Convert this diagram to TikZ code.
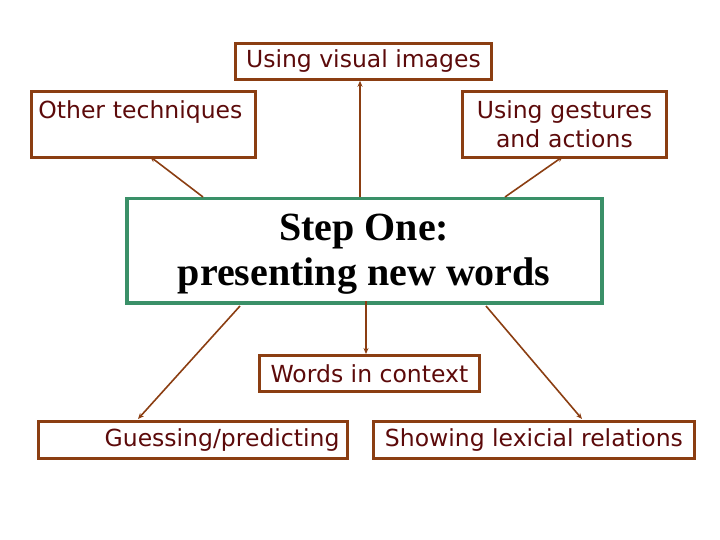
\documentclass[tikz,border=0pt]{standalone}
\usepackage{fontspec}
\setmainfont{DejaVu Sans}
\newfontfamily\serifbold{Liberation Serif}
\usetikzlibrary{arrows.meta}
\definecolor{boxbrown}{HTML}{8B3E12}
\definecolor{txtred}{HTML}{5C0A0A}
\definecolor{boxgreen}{HTML}{3A9068}
\tikzset{
  brownbox/.style={draw=boxbrown, line width=2.8pt, rectangle, inner sep=0pt, text=txtred,
    font=\fontsize{23.5}{29}\selectfont, anchor=north west},
  link/.style={draw=boxbrown, line width=1.6pt, -{Stealth[length=6pt,width=5pt]}},
}
\begin{document}
\begin{tikzpicture}[x=1pt,y=-1pt]
\useasboundingbox (0,0) rectangle (720,540);
\node[brownbox, minimum width=256pt, minimum height=36pt] (vis) at (234,42) {Using visual images};
\node[brownbox, minimum width=224pt, minimum height=66pt, text width=210pt, align=left, yshift=0pt] (oth) at (30,90) {Other techniques\\\mbox{}};
\node[brownbox, minimum width=204pt, minimum height=66pt, text width=200pt, align=center] (ges) at (461,90) {Using gestures\\and actions};
\node[draw=boxgreen, line width=3.5pt, rectangle, inner sep=0pt, anchor=north west, minimum width=475pt, minimum height=104pt] (step) at (125,197) {};
\node[align=center, inner sep=0pt, font=\serifbold\bfseries\fontsize{40}{45}\selectfont] (steptext) at ([yshift=-3pt]step.center) {Step One:\\presenting new words};
\node[brownbox, minimum width=220pt, minimum height=36pt] (ctx) at (258,354) {Words in context};
\node[brownbox, minimum width=309pt, minimum height=37pt, text width=293pt, align=right] (gue) at (37,420) {Guessing/predicting};
\node[brownbox, minimum width=321pt, minimum height=37pt] (lex) at (372,420) {Showing lexicial relations};
\coordinate (s1) at (360,197);
\coordinate (s2) at (203,197);
\coordinate (s3) at (505,197);
\coordinate (s4) at (366,301);
\coordinate (s5) at (240,306);
\coordinate (s6) at (486,306);
\draw[link] (s1) -- (vis.south -| s1);
\draw[link] (s2) -- (150,156.5);
\draw[link] (s3) -- (563,156.5);
\draw[link] (s4) -- (ctx.north -| s4);
\draw[link] (s5) -- (138,419);
\draw[link] (s6) -- (582,419);
\end{tikzpicture}
\end{document}
